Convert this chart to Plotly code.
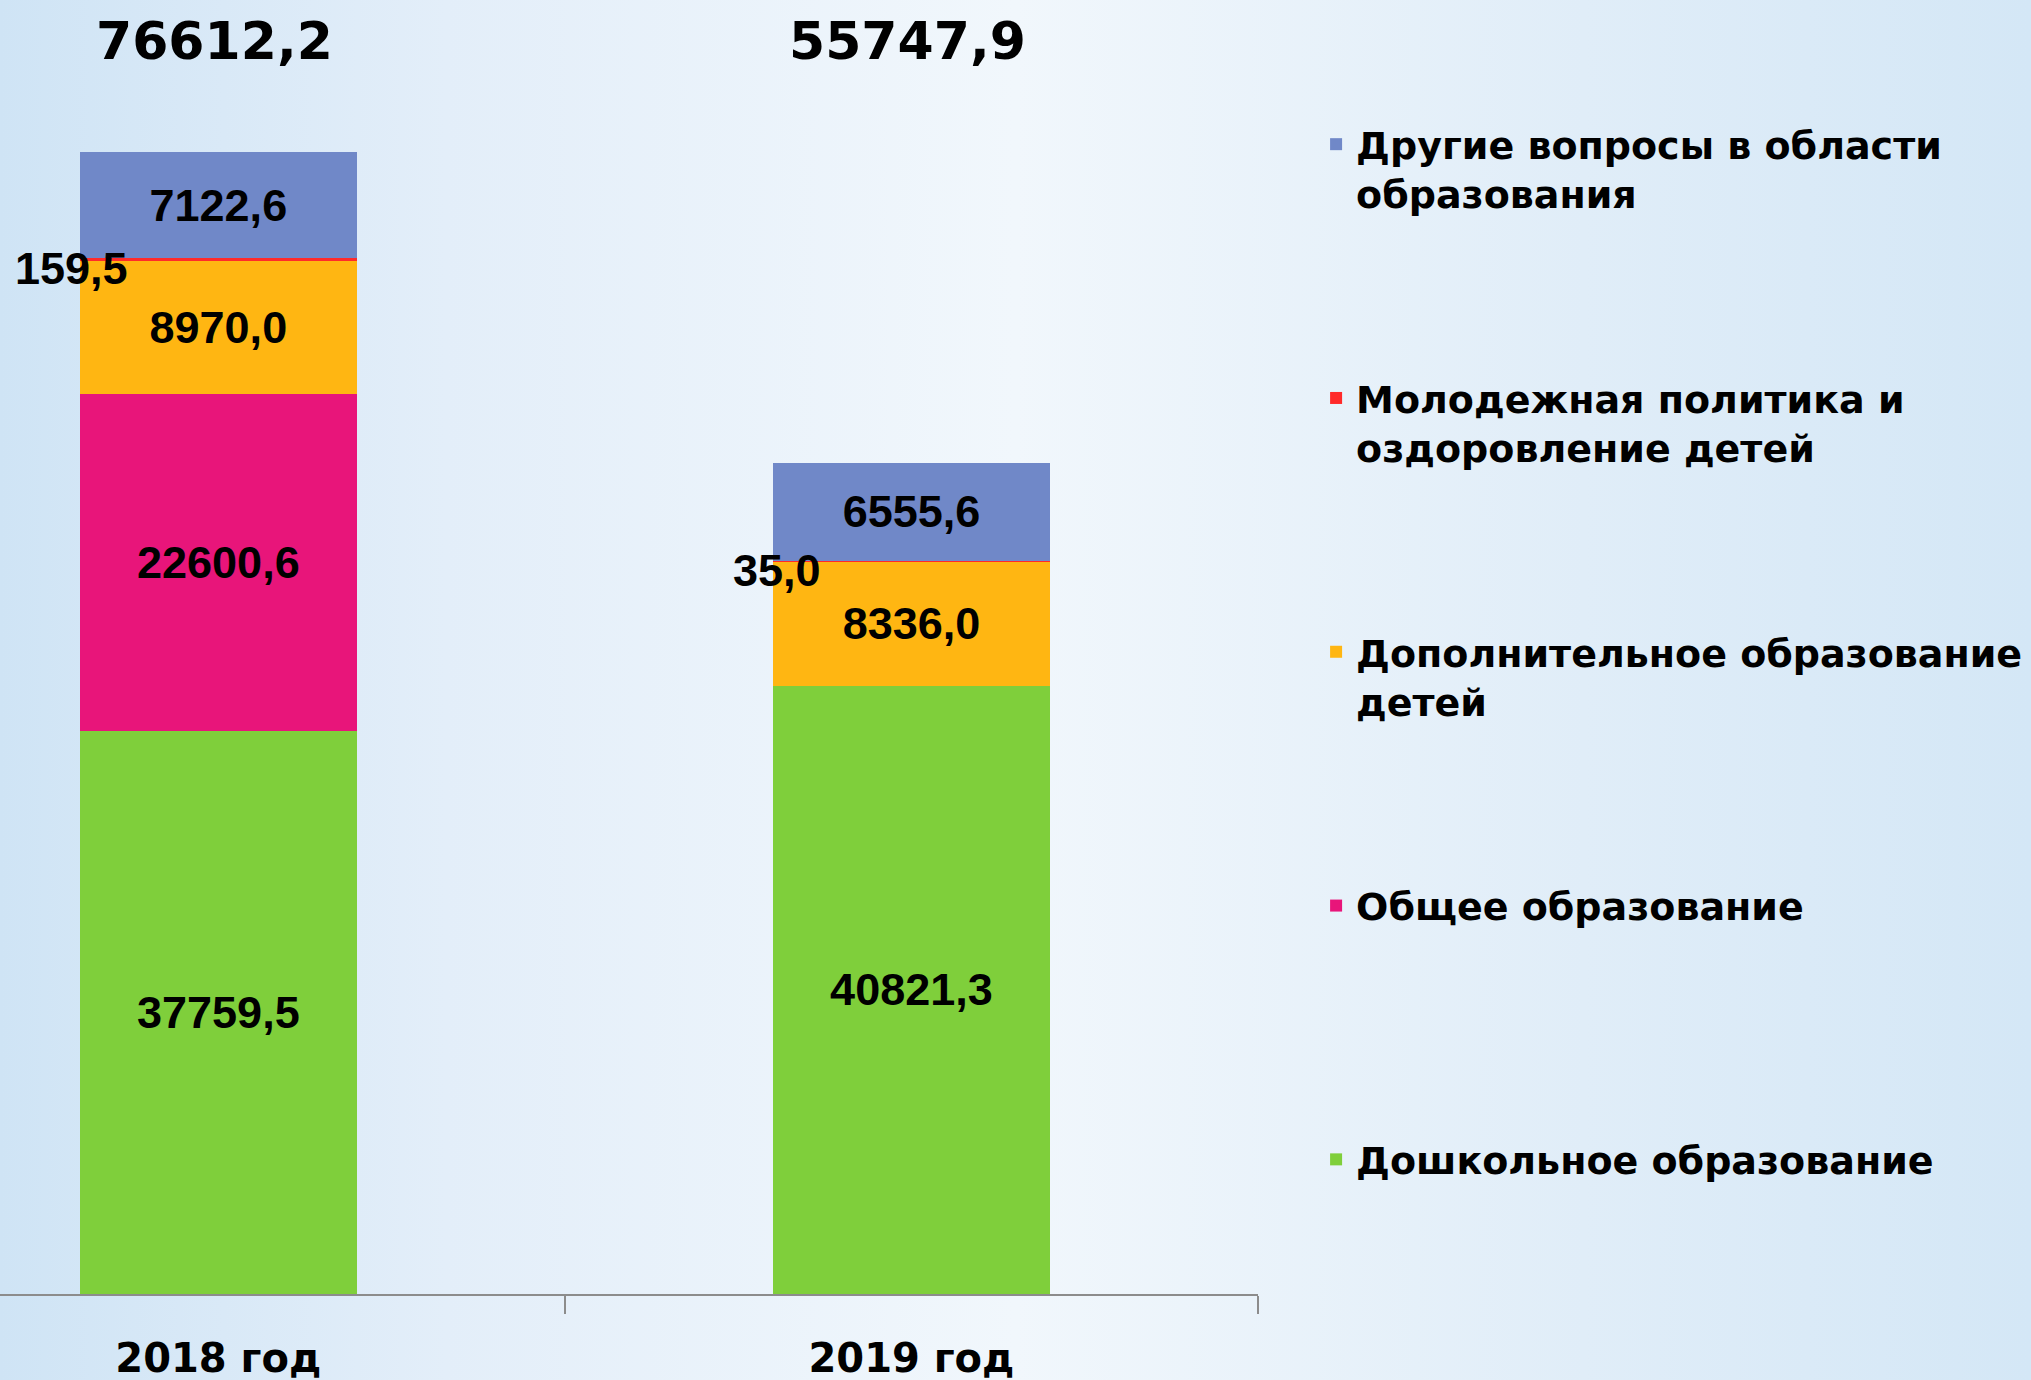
import plotly.graph_objects as go

years = ["2018 год", "2019 год"]
names = [
    "Дошкольное образование<br> ",
    "Общее образование<br> ",
    "Дополнительное образование<br>детей",
    "Молодежная политика и<br>оздоровление детей",
    "Другие вопросы в области<br>образования",
]
preschool = [37759.5, 40821.3]
general = [22600.6, 0.0]
additional = [8970.0, 8336.0]
youth = [159.5, 35.0]
other = [7122.6, 6555.6]
totals = [76612.2, 55747.9]

colors = ["#7fcf3b", "#e8157a", "#ffb612", "#ff2a2a", "#7088c8"]
series = [preschool, general, additional, youth, other]


def fmt(v):
    return f"{v:.1f}".replace(".", ",")


BAR_W = 0.4
LABEL_FONT = dict(family="Liberation Sans, Arial, sans-serif", size=45, color="black", weight="bold")
fig = go.Figure()
for k, (nm, vals, col) in enumerate(zip(names, series, colors)):
    if k == 3:
        txt = ["" for v in vals]
    else:
        txt = [fmt(v) if v > 0 else "" for v in vals]
    fig.add_trace(go.Bar(
        x=years, y=vals, name=nm, legendgroup=f"g{k}",
        legendrank=len(series) - k,
        marker=dict(color=col, line=dict(width=0)),
        width=BAR_W,
        text=txt, textposition="inside", insidetextanchor="middle",
        textangle=0, constraintext="none",
        textfont=LABEL_FONT,
        cliponaxis=False,
    ))

# small youth values written beside the bar
for i in range(len(years)):
    base = preschool[i] + general[i] + additional[i]
    fig.add_annotation(
        x=i - BAR_W / 2, y=base + youth[i] / 2, xref="x", yref="y",
        text=fmt(youth[i]), showarrow=False, xanchor="right", yanchor="middle",
        xshift=50, yshift=-9,
        font=LABEL_FONT,
    )

# totals above bars
for i in range(len(years)):
    fig.add_annotation(
        x=i, y=0.968, xref="x", yref="paper",
        text=fmt(totals[i]), showarrow=False, xanchor="center", yanchor="middle",
        xshift=-4,
        font=dict(family="DejaVu Sans, Verdana, sans-serif", size=52, color="black", weight="bold"),
    )

bg_svg = (
    "data:image/svg+xml;utf8,"
    "<svg xmlns='http://www.w3.org/2000/svg' width='2031' height='1380' preserveAspectRatio='none'>"
    "<defs><linearGradient id='g' x1='0' y1='0' x2='1' y2='0'>"
    "<stop offset='0' stop-color='%23cfe4f5'/>"
    "<stop offset='0.22' stop-color='%23e3eef9'/>"
    "<stop offset='0.5' stop-color='%23f1f7fc'/>"
    "<stop offset='0.78' stop-color='%23e0edf8'/>"
    "<stop offset='1' stop-color='%23d4e7f6'/>"
    "</linearGradient></defs>"
    "<rect width='2031' height='1380' fill='url(%23g)'/></svg>"
)

fig.update_layout(
    width=2031, height=1380,
    barmode="stack",
    paper_bgcolor="#e6f0fa",
    plot_bgcolor="rgba(0,0,0,0)",
    margin=dict(l=0, r=0, t=0, b=86),
    showlegend=True,
    legend=dict(
        x=0.648, xanchor="left", y=0.9127, yanchor="top",
        traceorder="grouped", tracegroupgap=152,
        valign="top",
        font=dict(family="DejaVu Sans, Verdana, sans-serif", size=38, color="black", weight="bold"),
        bgcolor="rgba(0,0,0,0)",
    ),
    xaxis=dict(
        domain=[0, 1258 / 2031],
        range=[-0.315, 1.5],
        type="category",
        showline=True, linecolor="#8c8c8c", linewidth=2,
        ticks="outside", tickson="boundaries", ticklen=18, tickcolor="#8c8c8c", tickwidth=2,
        ticklabelstandoff=28,
        tickfont=dict(family="DejaVu Sans, Verdana, sans-serif", size=40, color="black", weight="bold"),
        showgrid=False, zeroline=False, fixedrange=True,
    ),
    yaxis=dict(
        range=[0, 86811], visible=False, showgrid=False, zeroline=False,
    ),
    images=[dict(
        source=bg_svg, xref="paper", yref="paper", x=0, y=1, xanchor="left", yanchor="top",
        sizex=1, sizey=1380 / 1294, sizing="stretch", layer="below",
    )],
)

fig.write_html(
    "out.html",
    config={"displayModeBar": False},
    post_script="document.body.style.margin='0';document.body.style.background='#e6f0fa';",
)
